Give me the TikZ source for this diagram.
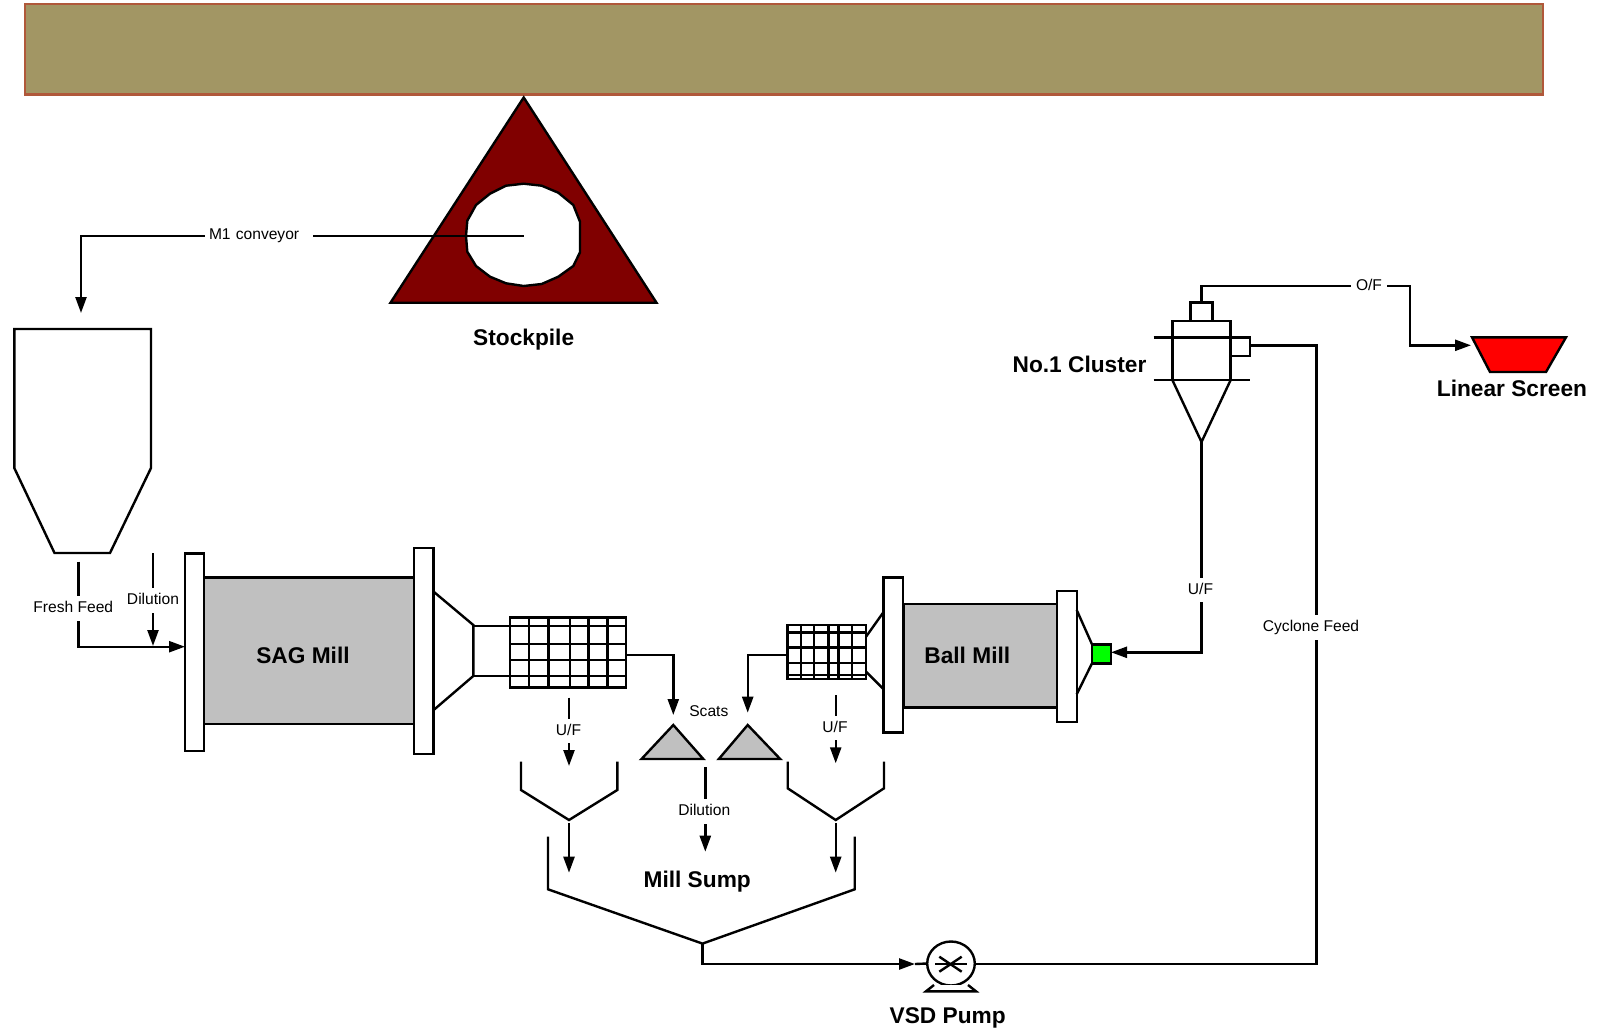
\documentclass[tikz,border=0pt]{standalone}
\usepackage{fontspec}
\setmainfont{Liberation Sans}
\usetikzlibrary{arrows.meta, positioning, shapes.geometric}
\definecolor{bandfill}{HTML}{A29664}
\definecolor{bandedge}{HTML}{B0583A}
\definecolor{pilered}{HTML}{800000}
\definecolor{millgrey}{HTML}{C0C0C0}
\tikzset{
  pipe/.style={line width=2.4pt,line join=miter},
  line/.style={pipe,-{Triangle[length=16pt,width=11pt]}},
  part/.style={rectangle,draw,pipe,fill=white,inner sep=0pt,outer sep=0pt},
  mill/.style={part,fill=millgrey},
  tag/.style={inner sep=0pt,font=\fontsize{22.7}{26}\selectfont\bfseries},
  flowlab/.style={fill=white,inner xsep=5pt,inner ysep=5pt,text height=11.5pt,text depth=3pt,
    font=\fontsize{15.6}{18}\selectfont}
}

\begin{document}
\begin{tikzpicture}[x=1pt,y=-1pt]
\useasboundingbox (0,0) rectangle (1598,1028);
\node[part,fill=bandfill,draw=bandedge,minimum width=1518pt,minimum height=90.7pt] (band) at (784,49.3) {};

% stockpile
\coordinate (pileC) at (523.7,236);
\draw[pipe,fill=pilered] (523.7,97.5) -- (656.5,302.7) -- (390.5,302.7) -- cycle;
\draw[pipe,fill=white] (523.7,183.7) -- (541.7,185.7) -- (558.3,192.7) -- (573.3,205) -- (580,221.7)
  -- (580,252.3) -- (573.3,266) -- (558.3,276.7) -- (541.7,284) -- (523.7,286) -- (506,283.3)
  -- (490,276.7) -- (476,266) -- (467.3,251.7) -- (466,236) -- (467.3,220.7) -- (476,205)
  -- (490,193.7) -- (506,185.7) -- cycle;
\node[tag] (pilename) at (523.7,339.3) {Stockpile};

% feed bin
\draw[pipe] (54.5,553) -- (110,553) -- (151,468) -- (151,329) -- (14.3,329) -- (14.3,468) -- cycle;
\coordinate (binin) at (81,313);
\coordinate (binout) at (78.3,561.7);
\coordinate (dilA) at (153,553);

% SAG mill
\node[mill,minimum width=210pt,minimum height=146.7pt] (sag) at (309,650.7) {};
\node[tag] (sagname) at (303,655) {SAG Mill};
\node[part,minimum width=19pt,minimum height=197.4pt] (sagL) at (194.5,652) {};
\node[part,minimum width=19.7pt,minimum height=206pt] (sagR) at (423.8,651) {};
\draw[pipe] (sagR.east |- 0,591.7) -- (473.3,625) -- (473.3,676) -- (sagR.east |- 0,710);
\node[part,minimum width=115.7pt,minimum height=70pt] (tromA) at (567.85,652.3) {};
\draw[pipe] (473.3,625.7) -- (tromA.west |- 0,625.7);
\draw[pipe] (473.3,676) -- (tromA.west |- 0,676);
\foreach \yy in {625.7,644,660,676} \draw[pipe] (tromA.west |- 0,\yy) -- (tromA.east |- 0,\yy);
\foreach \xx in {529,548.3,570,588.3,607.3} \draw[pipe] (\xx,0 |- tromA.north) -- (\xx,0 |- tromA.south);

% ball mill
\node[mill,minimum width=153.4pt,minimum height=103.3pt] (ball) at (980,655.7) {};
\node[tag] (ballname) at (967.3,655) {Ball Mill};
\node[part,minimum width=19.7pt,minimum height=155pt] (ballL) at (893.2,654.8) {};
\node[part,minimum width=20pt,minimum height=131pt] (ballR) at (1066.7,656.2) {};
\node[part,fill=green,minimum width=19pt,minimum height=19pt] (ballin) at (1101.5,653.8) {};
\draw[pipe] (ballR.east |- 0,610) -- (ballin.north west);
\draw[pipe] (ballR.east |- 0,694.3) -- (ballin.south west);
\node[part,minimum width=78.7pt,minimum height=54pt] (tromB) at (826.7,652) {};
\draw[pipe] (tromB.east |- 0,636.7) -- (ballL.west |- 0,612.3);
\draw[pipe] (tromB.east |- 0,671.7) -- (ballL.west |- 0,689);
\foreach \yy in {632.3,647.3,662.7,674.7} \draw[pipe] (tromB.west |- 0,\yy) -- (tromB.east |- 0,\yy);
\foreach \xx in {800.7,814,828.3,838.3,851.7} \draw[pipe] (\xx,0 |- tromB.north) -- (\xx,0 |- tromB.south);

% scats cones
\coordinate (scatA) at (673.3,715);
\coordinate (scatB) at (747.7,712.7);
\draw[pipe,fill=millgrey] (673.3,725) -- (703.3,759) -- (641.5,759) -- cycle;
\draw[pipe,fill=millgrey] (747.7,725) -- (780.2,759) -- (718.8,759) -- cycle;

% launders and sump
\draw[pipe] (521,761.7) -- (521,790) -- (569,820) -- (617.3,790) -- (617.3,761.7);
\draw[pipe] (787.7,761.7) -- (787.7,788.3) -- (835.7,820) -- (884,788.3) -- (884,761.7);
\draw[pipe] (548,836.7) -- (548,889.3) -- (702.5,943.6) -- (854.7,889.3) -- (854.7,836.7);
\coordinate (sumpout) at (702.5,943.6);
\node[tag] (sumpname) at (697.2,881.3) {Mill Sump};
\coordinate (ufAa) at (569,697.7);
\coordinate (ufAb) at (569,766);
\coordinate (ufBa) at (835.7,695);
\coordinate (ufBb) at (835.7,763.3);
\coordinate (laundA) at (569,823.3);
\coordinate (laundAb) at (569,872.7);
\coordinate (laundB) at (835.7,823.3);
\coordinate (laundBb) at (835.7,872.7);
\coordinate (dilBa) at (705.3,767.3);
\coordinate (dilBb) at (705.3,851.7);

% pump
\node[ellipse,draw,pipe,fill=white,inner sep=0pt,outer sep=0pt,minimum width=47.6pt,minimum height=44pt] (pump) at (951,963.5) {};
\draw[pipe,fill=white] (934,985) -- (926,991.3) -- (976,991.3) -- (968,985);
\draw[pipe] (935,964) -- (967,964);
\draw[pipe] (939.3,956.7) -- (961.7,971.7);
\draw[pipe] (939.3,971.7) -- (961.7,956.7);
\node[tag] (pumpname) at (947.7,1018) {VSD Pump};
\coordinate (pumpin) at (915,964);

% cluster
\node[part,minimum width=58.3pt,minimum height=59pt] (cyc) at (1201.5,350.5) {};
\node[part,minimum width=21.7pt,minimum height=18.7pt] (cycOF) at (1201.5,311.7) {};
\node[part,minimum width=19.1pt,minimum height=18.7pt] (cycFD) at (1240.2,346.7) {};
\coordinate (cycT) at (1201.5,442);
\draw[pipe] (cyc.south west) -- (cycT) -- (cyc.south east);
\draw[pipe] (1153.7,337.3) -- (1249.8,337.3);
\draw[pipe] (1153.7,380) -- (1249.8,380);
\node[tag] (cycname) at (1079.5,364) {No.1 Cluster};

% screen
\draw[pipe,fill=red] (1472,337.3) -- (1566,337.3) -- (1546,372) -- (1490,372) -- cycle;
\coordinate (scrin) at (1471,345.3);
\node[tag] (scrname) at (1512,388) {Linear Screen};

% flows
\draw[line] (pileC) -- (81,236) -- (binin);
\draw[line] (binout) |- (sagL.west |- 0,646.7);
\draw[line] (dilA) -- (153,646);
\draw[line] ([yshift=-2.4pt]tromA.east) -| (scatA);
\draw[line] ([yshift=-2.7pt]tromB.west) -| (scatB);
\draw[line] (ufAa) -- (ufAb);
\draw[line] (ufBa) -- (ufBb);
\draw[line] (laundA) -- (laundAb);
\draw[line] (laundB) -- (laundBb);
\draw[line] (dilBa) -- (dilBb);
\draw[line] (sumpout) |- (pumpin);
\draw[pipe] (pumpin) -- (pump.west);
\draw[pipe] (pump.east |- 0,964) -| (1316.5,345.3) -- (cycFD.east |- 0,345.3);
\draw[line] (cycT) -- (1201.5,652.3) -- (ballin.east |- 0,652.3);
\draw[line] (cycOF.north) |- (1410,286) |- (scrin);

% stream labels
\node[flowlab,text width=100pt,align=left,inner xsep=4pt] (m1lab) at (259,235) {M1 conveyor};
\node[flowlab] (freshlab) at (73.3,608.7) {Fresh Feed};
\node[flowlab] (dillabA) at (153,600.7) {Dilution};
\node[flowlab] (uflabA) at (568.5,731) {U/F};
\node[flowlab] (uflabB) at (835,728) {U/F};
\node[flowlab,fill=none] (scatlab) at (708.8,712.7) {Scats};
\node[flowlab] (dillabB) at (704.3,811.7) {Dilution};
\node[flowlab] (uflabC) at (1200.5,590) {U/F};
\node[flowlab] (feedlab) at (1311,627.7) {Cyclone Feed};
\node[flowlab] (oflab) at (1369,286) {O/F};
\end{tikzpicture}
\end{document}
